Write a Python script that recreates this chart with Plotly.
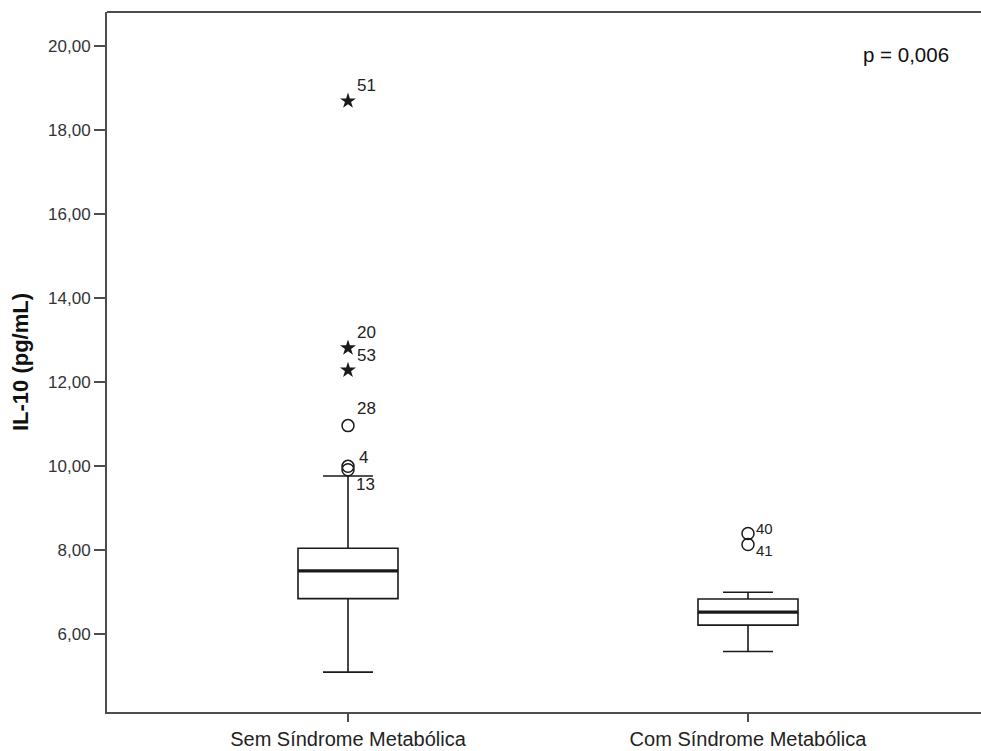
import plotly.graph_objects as go

# ---- data ----
categories = ["Sem Síndrome Metabólica", "Com Síndrome Metabólica"]
q1 = [6.85, 6.22]
median = [7.51, 6.53]
q3 = [8.05, 6.84]
lower_whisker = [5.10, 5.59]
upper_whisker = [9.77, 7.00]

# outliers: (group index, value, case label)
out_circle_group = [0, 0, 0, 1, 1]
out_circle_value = [10.97, 10.00, 9.92, 8.40, 8.14]
out_circle_label = ["28", "4", "13", "40", "41"]

out_star_group = [0, 0, 0]
out_star_value = [18.70, 12.82, 12.29]
out_star_label = ["51", "20", "53"]

yticks = [6, 8, 10, 12, 14, 16, 18, 20]
yticklabels = ["6,00", "8,00", "10,00", "12,00", "14,00", "16,00", "18,00", "20,00"]
p_text = "p = 0,006"

# ---- styling ----
BOX_W = 0.25
LINE = "#1a1a1a"
AX = "#4d4d4d"
FONT = "Liberation Sans, Arial, sans-serif"

fig = go.Figure()

for i, cat in enumerate(categories):
    fig.add_trace(go.Box(
        x=[i], q1=[q1[i]], median=[median[i]], q3=[q3[i]],
        lowerfence=[lower_whisker[i]], upperfence=[upper_whisker[i]],
        width=BOX_W, whiskerwidth=0.5, fillcolor="white",
        line=dict(color=LINE, width=1.6), boxpoints=False,
        showlegend=False, hoverinfo="skip",
    ))
    # thicker median line
    fig.add_trace(go.Scatter(
        x=[i - BOX_W / 2, i + BOX_W / 2], y=[median[i], median[i]],
        mode="lines", line=dict(color=LINE, width=3.2),
        showlegend=False, hoverinfo="skip",
    ))

fig.add_trace(go.Scatter(
    x=out_circle_group, y=out_circle_value, mode="markers",
    marker=dict(symbol="circle-open", size=12, color=LINE, line=dict(width=1.5)),
    showlegend=False, hoverinfo="skip",
))
fig.add_trace(go.Scatter(
    x=out_star_group, y=out_star_value, mode="markers",
    marker=dict(symbol="star", size=12, color=LINE, line=dict(width=0)),
    showlegend=False, hoverinfo="skip",
))

# label offsets (pixels) per label
label_shift = {"51": (7, 16), "20": (7, 15), "53": (7, 15), "28": (7, 17),
               "4": (9, 9), "13": (6, -15), "40": (6, 5), "41": (6, -6)}
label_size = {"40": 15, "41": 15}

for g, v, lab in list(zip(out_circle_group, out_circle_value, out_circle_label)) + \
        list(zip(out_star_group, out_star_value, out_star_label)):
    dx, dy = label_shift[lab]
    fig.add_annotation(
        x=g, y=v, text=lab, showarrow=False, xref="x", yref="y",
        xanchor="left", yanchor="middle", xshift=dx, yshift=dy,
        font=dict(family=FONT, size=label_size.get(lab, 17), color="#222"),
    )

fig.add_annotation(
    x=0.966, y=0.939, xref="paper", yref="paper", text=p_text, showarrow=False,
    xanchor="right", yanchor="middle",
    font=dict(family=FONT, size=20.5, color="#111"),
)

# top frame line (no right border in the reference)
fig.add_shape(type="line", xref="paper", yref="paper", x0=0, x1=1, y0=1, y1=1,
              line=dict(color=AX, width=2))

fig.update_layout(
    width=981, height=751,
    margin=dict(l=107, r=0, t=12, b=39, autoexpand=False),
    paper_bgcolor="white", plot_bgcolor="white",
    font=dict(family=FONT),
    xaxis=dict(
        range=[-0.6025, 1.5825], tickvals=[0, 1], ticktext=categories,
        showgrid=False, zeroline=False, showline=True, linecolor=AX, linewidth=2,
        mirror=False, ticks="outside", ticklen=8, tickwidth=2, tickcolor=AX,
        tickfont=dict(family=FONT, size=20, color="#222"), automargin=False,
    ),
    yaxis=dict(
        range=[4.15, 20.82], tickvals=yticks, ticktext=yticklabels,
        showgrid=False, zeroline=False, showline=True, linecolor=AX, linewidth=2,
        mirror=False,
        ticks="outside", ticklen=11, tickwidth=2, tickcolor=AX,
        tickfont=dict(family=FONT, size=17, color="#333"), automargin=False,
        title=dict(text="<b>IL-10 (pg/mL)</b>", standoff=13,
                   font=dict(family=FONT, size=22, color="#111")),
    ),
)

fig.write_html("out.html", config={"displayModeBar": False},
               post_script="document.body.style.margin='0';")
